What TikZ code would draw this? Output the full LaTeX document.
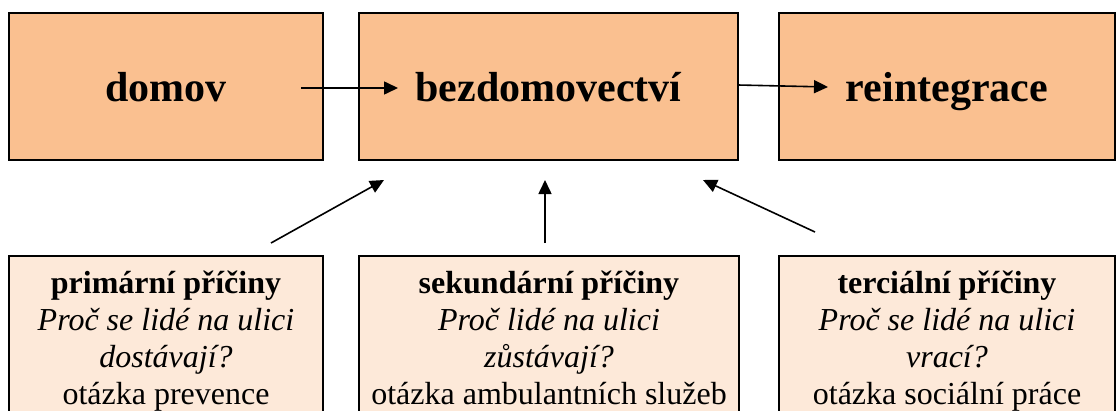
\documentclass[tikz,border=0pt]{standalone}
\usepackage{fontspec}
\setmainfont{Liberation Serif}
\usetikzlibrary{arrows.meta}
\definecolor{stagefill}{HTML}{FAC090}
\definecolor{causefill}{HTML}{FDE9D9}
\tikzset{
 stage/.style={draw=black,line width=1.5pt,fill=stagefill,minimum height=147pt,inner sep=0pt,
   font=\fontsize{42}{48}\selectfont\bfseries,text height=29pt,text depth=0pt},
 cause/.style={draw=black,line width=1.5pt,fill=causefill,minimum height=172pt,inner sep=0pt,
   align=center,font=\fontsize{32}{37}\selectfont},
 flow/.style={line width=1.6pt,-{Triangle[length=14pt,width=13pt]}},
}
\newcommand{\causelines}[4]{\strut\textbf{#1}\\\strut\textit{#2}\\\strut\textit{#3}\\\strut #4}

\begin{document}
\begin{tikzpicture}[x=1pt,y=-1pt]
        \useasboundingbox (0,0) rectangle (1116,410);
        \clip (0,0) rectangle (1116,410);
        % top row
        \node[stage,minimum width=314pt] (domov) at (166,86.5) {domov};
        \node[stage,minimum width=379pt] (bezdom) at (548.5,86.5) {bezdomovectví};
        \node[stage,minimum width=336pt] (reint) at (947,86.5) {reintegrace};
        % bottom row
        \node[cause,minimum width=314pt] (prim) at (166,342)
            {\causelines{primární příčiny}{Proč se lidé na ulici}{dostávají?}{otázka prevence}};
        \node[cause,minimum width=380pt] (sek) at (549,342)
            {\causelines{sekundární příčiny}{Proč lidé na ulici}{zůstávají?}{otázka ambulantních služeb}};
        \node[cause,minimum width=336pt] (terc) at (947,342)
            {\causelines{terciální příčiny}{Proč se lidé na ulici}{vrací?}{otázka sociální práce}};
        % arrow ends
        \coordinate (domov-out) at (301,88);
        \coordinate (bezdom-in) at (398,88);
        \coordinate (bezdom-out) at (738,85);
        \coordinate (reint-in) at (828,87);
        \coordinate (prim-up) at (271,243);
        \coordinate (bezdom-left) at (384,180);
        \coordinate (sek-up) at (545,243);
        \coordinate (bezdom-mid) at (545,180);
        \coordinate (terc-up) at (815,232);
        \coordinate (bezdom-right) at (703,180);
        \draw[flow] (domov-out) -- (bezdom-in);
        \draw[flow] (bezdom-out) -- (reint-in);
        \draw[flow] (prim-up) -- (bezdom-left);
        \draw[flow] (sek-up) -- (bezdom-mid);
        \draw[flow] (terc-up) -- (bezdom-right);
    \end{tikzpicture}
\end{document}
